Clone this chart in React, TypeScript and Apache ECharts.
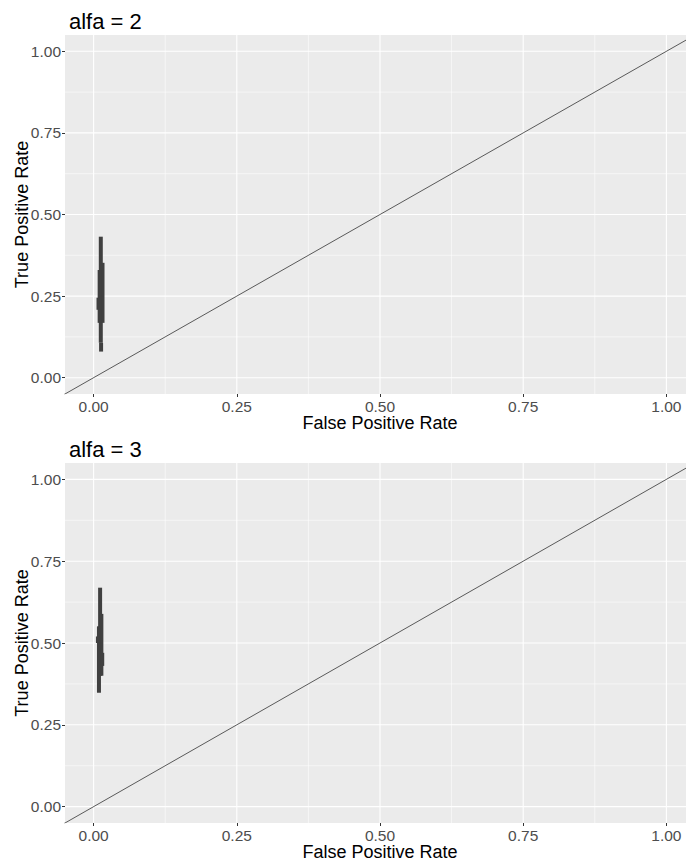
import React, { useEffect, useRef } from "react";
import * as echarts from "echarts";

// Axis ticks shared by both panels
const majorTicks = [0, 0.25, 0.5, 0.75, 1];
const minorTicks = [0.125, 0.375, 0.625, 0.875];
const xRange = [-0.05, 1.05];
const yRange = [-0.05, 1.05];

const panelTitles = ["alfa = 2", "alfa = 3"];

// ROC traces per panel: each segment is [fpr, tprLow, tprHigh]
const rocAlfa2: number[][] = [
  [0.0125, 0.107, 0.432],
  [0.0155, 0.168, 0.352],
  [0.0105, 0.168, 0.33],
  [0.0085, 0.208, 0.245],
  [0.013, 0.08, 0.107],
];
const rocAlfa3: number[][] = [
  [0.0113, 0.4, 0.669],
  [0.0135, 0.4, 0.589],
  [0.0093, 0.348, 0.551],
  [0.0075, 0.5, 0.52],
  [0.015, 0.43, 0.47],
];
const panelRoc = [rocAlfa2, rocAlfa3];

// Reference diagonal y = x
const diagonal = [
  [-0.1, -0.1],
  [1.1, 1.1],
];

const panelLayout = [
  { top: 35, height: 359 },
  { top: 463, height: 360 },
];

const FONT = "'Liberation Sans', Arial, sans-serif";

export default function App() {
  const ref = useRef<HTMLDivElement>(null);

  useEffect(() => {
    if (!ref.current) return;
    const chart = echarts.init(ref.current, undefined, { renderer: "svg" });

    const grids: any[] = [];
    const xAxes: any[] = [];
    const yAxes: any[] = [];
    const series: any[] = [];
    const titles: any[] = [];

    panelLayout.forEach((p, i) => {
      grids.push({
        left: 65,
        width: 630,
        top: p.top,
        height: p.height,
        outerBoundsMode: "none",
        containLabel: false,
        show: true,
        backgroundColor: "#EBEBEB",
        borderWidth: 0,
      });
      titles.push({
        text: panelTitles[i],
        left: 64,
        top: p.top - 30,
        textStyle: { fontFamily: FONT, fontSize: 22, fontWeight: "normal", color: "#000" },
      });
      const axisCommon = {
        type: "value",
        gridIndex: i,
        axisLine: { show: false, onZero: false },
        splitLine: { show: false },
        axisTick: {
          show: true,
          length: 3,
          lineStyle: { color: "#333", width: 1 },
          customValues: majorTicks,
        },
        axisLabel: {
          customValues: majorTicks,
          formatter: (v: number) => v.toFixed(2),
          color: "#4D4D4D",
          fontFamily: FONT,
          fontSize: 15.5,
          margin: 4,
        },
        nameLocation: "middle",
        nameMoveOverlap: false,
        nameTextStyle: { fontFamily: FONT, fontSize: 18, lineHeight: 18, color: "#000" },
      };
      xAxes.push({
        ...axisCommon,
        min: xRange[0],
        max: xRange[1],
        name: "False Positive Rate",
        nameGap: 20,
      });
      yAxes.push({
        ...axisCommon,
        min: yRange[0],
        max: yRange[1],
        name: "True Positive Rate",
        nameGap: 34,
      });

      // Grid lines drawn as white segments
      const gridLine = (data: number[][], w: number) => ({
        type: "line",
        xAxisIndex: i,
        yAxisIndex: i,
        data,
        symbol: "none",
        silent: true,
        z: 1,
        lineStyle: { color: "#FFFFFF", width: w },
      });
      minorTicks.forEach((v) => {
        series.push(gridLine([[v, yRange[0]], [v, yRange[1]]], 0.55));
        series.push(gridLine([[xRange[0], v], [xRange[1], v]], 0.55));
      });
      majorTicks.forEach((v) => {
        series.push(gridLine([[v, yRange[0]], [v, yRange[1]]], 1.1));
        series.push(gridLine([[xRange[0], v], [xRange[1], v]], 1.1));
      });

      series.push({
        type: "line",
        xAxisIndex: i,
        yAxisIndex: i,
        data: diagonal,
        symbol: "none",
        silent: true,
        clip: true,
        z: 2,
        lineStyle: { color: "#1a1a1a", width: 0.7 },
      });

      panelRoc[i].forEach(([x, lo, hi]) => {
        series.push({
          type: "line",
          xAxisIndex: i,
          yAxisIndex: i,
          data: [
            [x, lo],
            [x, hi],
          ],
          symbol: "none",
          silent: true,
          z: 3,
          lineStyle: { color: "#404040", width: 4, cap: "butt" },
        });
      });
    });

    chart.setOption({
      animation: false,
      title: titles,
      grid: grids,
      xAxis: xAxes,
      yAxis: yAxes,
      series,
    });

    return () => chart.dispose();
  }, []);

  return (
    <div
      ref={ref}
      style={{ position: "fixed", left: 0, top: 0, width: 686, height: 861, background: "#fff" }}
    />
  );
}
